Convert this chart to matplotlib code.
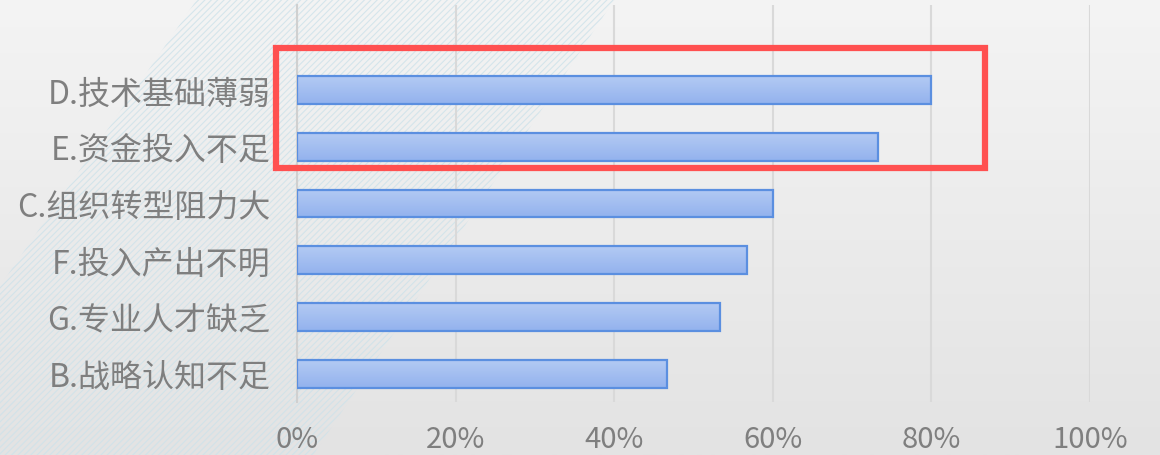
import numpy as np
import matplotlib
matplotlib.use("Agg")
import matplotlib.pyplot as plt
from matplotlib.patches import Rectangle, Polygon
from matplotlib.ticker import FuncFormatter

plt.rcParams['font.family'] = ['Noto Sans CJK SC', 'DejaVu Sans']

# data, bottom to top
categories = ["B.战略认知不足", "G.专业人才缺乏", "F.投入产出不明",
              "C.组织转型阻力大", "E.资金投入不足", "D.技术基础薄弱"]
shares = [46.7, 53.3, 56.7, 60.0, 73.3, 80.0]
xticks = [0, 20, 40, 60, 80, 100]
highlighted = ["D.技术基础薄弱", "E.资金投入不足"]

fig = plt.figure(figsize=(11.6, 4.56), dpi=100)

# background: soft vertical gradient with faint diagonal hatching
bg = fig.add_axes([0, 0, 1, 1], zorder=-10)
grad = np.linspace(0, 1, 256).reshape(-1, 1)
bg.imshow(grad, cmap=matplotlib.colors.LinearSegmentedColormap.from_list(
    "bg", ["#f4f4f4", "#e3e3e3"]), aspect="auto", extent=[0, 1, 0, 1],
    origin="upper")
band = Polygon([(0.17, 1.0), (0.53, 1.0), (0.27, 0.0), (-0.1, 0.0)],
               closed=True, transform=bg.transAxes, facecolor="none",
               edgecolor="none")
bg.add_patch(band)
for s in np.arange(-1.2, 1.2, 0.0055):
    ln, = bg.plot([s, s + 0.393], [0, 1], color="#cde2ea", lw=0.8,
                  alpha=0.8)
    ln.set_clip_path(band)
bg.set_xlim(0, 1)
bg.set_ylim(0, 1)
bg.axis("off")

ax = fig.add_axes([0.256, 0.116, 0.6836, 0.871])
ax.patch.set_alpha(0)
y = np.arange(len(categories))
bars = ax.barh(y, shares, height=0.49, color="none", edgecolor="#5b8fe0",
               linewidth=1.6, zorder=3)
bar_cmap = matplotlib.colors.LinearSegmentedColormap.from_list(
    "bar", ["#93b2ee", "#b3caf3"])
for b in bars:
    x0, y0 = b.get_x(), b.get_y()
    w, h = b.get_width(), b.get_height()
    im = ax.imshow(grad, cmap=bar_cmap, aspect="auto",
                   extent=[x0, x0 + w, y0, y0 + h], origin="lower", zorder=2)
    im.set_clip_path(b)

ax.set_xlim(0, 100)
ax.set_ylim(-0.5, 6.5)
ax.set_xticks(xticks)
ax.xaxis.set_major_formatter(FuncFormatter(lambda v, p: f"{v:.0f}%"))
ax.set_yticks(y)
ax.set_yticklabels(categories)
ax.tick_params(axis="x", length=0, pad=16, labelsize=21, labelcolor="#7f7f7f")
ax.tick_params(axis="y", length=0, pad=19, labelsize=23, labelcolor="#7f7f7f")
ax.grid(axis="x", color="#d9d9d9", linewidth=1.5, zorder=0)
for sp in ["top", "right", "bottom"]:
    ax.spines[sp].set_visible(False)
ax.spines["left"].set_color("#d0d0d0")
ax.spines["left"].set_linewidth(1.5)

# red highlight box around the two top items
idx = [categories.index(c) for c in highlighted]
box = Rectangle((-2.6, min(idx) - 0.37), 89.4, max(idx) - min(idx) + 1.11,
                fill=False, edgecolor="#ff5050", linewidth=4.5,
                clip_on=False, zorder=5)
ax.add_patch(box)

fig.savefig("out.png", dpi=100)
